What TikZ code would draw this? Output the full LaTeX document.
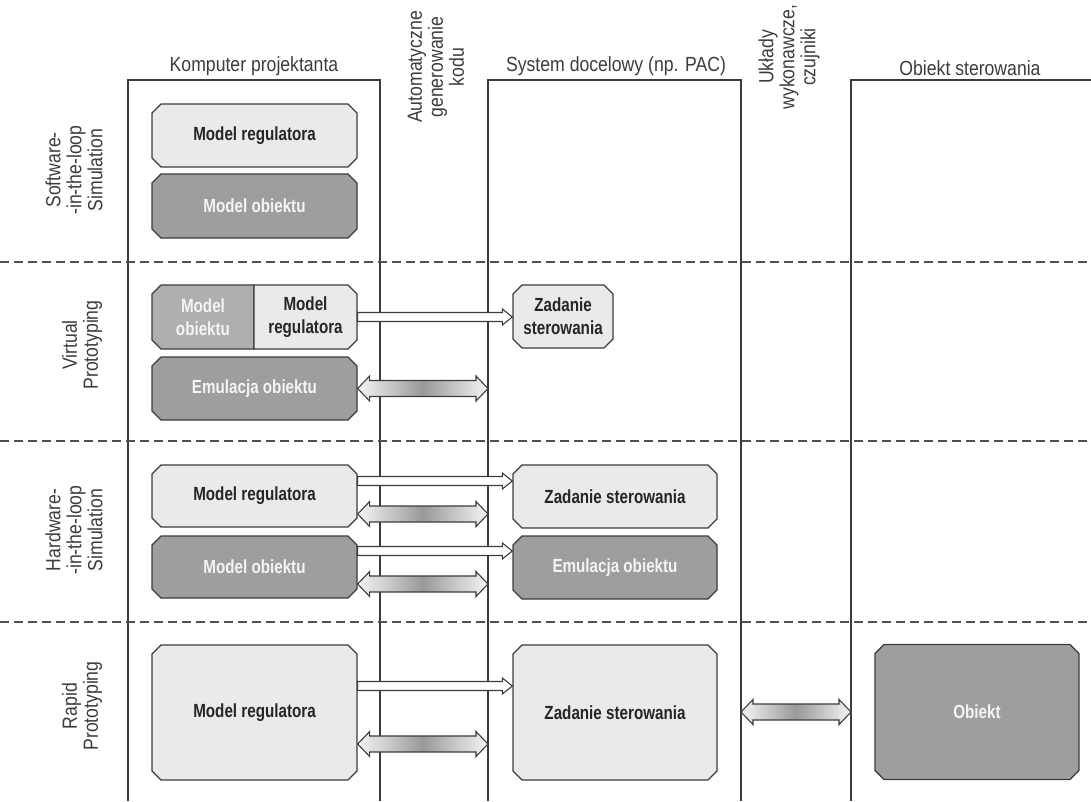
\documentclass[tikz,border=0pt]{standalone}
\usepackage{fontspec}
\setmainfont[FakeStretch=0.86]{Liberation Sans}
\newfontfamily\boxfont[FakeStretch=0.8]{Liberation Sans}
\usepackage{xcolor}
\usepackage{tikz}
\usetikzlibrary{calc}
\usetikzlibrary{shapes.misc}

\definecolor{boxlight}{HTML}{E9EAEA}
\definecolor{boxdark}{HTML}{9D9E9E}
\definecolor{boxmid}{HTML}{AEAFAF}
\definecolor{linegray}{HTML}{3C3C3C}
\definecolor{txtdark}{HTML}{262626}
\definecolor{txtlight}{HTML}{F4F4F4}

% white arrow between two points (y from the first, x from the second)
\newcommand\hollowarrow[2]{%
  \draw[hollowarr] let \p1=#1, \p2=#2 in
    (\x1,\y1+4.5pt) -- (\x2-10pt,\y1+4.5pt) -- (\x2-10pt,\y1+8pt) -- (\x2,\y1)
    -- (\x2-10pt,\y1-8pt) -- (\x2-10pt,\y1-4.5pt) -- (\x1,\y1-4.5pt) -- cycle;}
% shaded double arrow
\newcommand\shadedarrow[2]{%
  \path[shadedarr] let \p1=#1, \p2=#2 in
    (\x1,\y1) -- (\x1+12pt,\y1+12.5pt) -- (\x1+12pt,\y1+8pt) -- (\x2-12pt,\y1+8pt)
    -- (\x2-12pt,\y1+12.5pt) -- (\x2,\y1) -- (\x2-12pt,\y1-12.5pt) -- (\x2-12pt,\y1-8pt)
    -- (\x1+12pt,\y1-8pt) -- (\x1+12pt,\y1-12.5pt) -- cycle;}

\begin{document}
\begin{tikzpicture}[x=1pt,y=-1pt,
  label/.style={font=\fontsize{20.5}{21}\selectfont, text=txtdark!90, align=center, inner sep=0pt},
  sidelabel/.style={label, rotate=90},
  block/.style={chamfered rectangle, chamfered rectangle xsep=4.5pt, chamfered rectangle ysep=4.5pt,
    draw=linegray, line width=1.3pt, inner sep=0pt, align=center,
    font=\boxfont\bfseries\fontsize{19}{23}\selectfont},
  lblock/.style={block, fill=boxlight, text=txtdark},
  dblock/.style={block, fill=boxdark, text=txtlight},
  mblock/.style={block, fill=boxmid, text=txtlight},
  hollowarr/.style={draw=linegray, line width=1.1pt, fill=white},
  shadedarr/.style={draw=linegray, line width=1.1pt, left color=gray!8, right color=gray!8, middle color=gray!80},
  sep/.style={draw=linegray!90, line width=1.3pt, dash pattern=on 9pt off 5pt}]
\useasboundingbox (0,0) rectangle (1091,801);

% Columns
\draw[linegray, line width=1.3pt] (128,801) |- (380,80) -- (380,801);
\draw[linegray, line width=1.3pt] (488,801) |- (741,80) -- (741,801);
\draw[linegray, line width=1.3pt] (851,801) |- (1091,80);
\coordinate (c1r) at (380,0);
\coordinate (c2l) at (488,0);
\coordinate (c2r) at (741,0);
\coordinate (c3l) at (851,0);

\node[label] (t1) at (254,66) {Komputer projektanta};
\node[label] (t2) at (616,66) {System docelowy (np. PAC)};
\node[label] (t3) at (970,68) {Obiekt sterowania};
\node[sidelabel] (kod) at (436,67) {Automatyczne\\generowanie\\kodu};
\node[sidelabel] (uklady) at (789,57) {Układy\\wykonawcze,\\czujniki};

% Rows
\draw[sep] (0,262) -- (1091,262);
\draw[sep] (0,441) -- (1091,441);
\draw[sep] (0,622) -- (1091,622);
\node[sidelabel] (sil) at (74,170) {Software-\\-in-the-loop\\Simulation};
\node[sidelabel] (vp) at (82,345) {Virtual\\Prototyping};
\node[sidelabel] (hil) at (74,530) {Hardware-\\-in-the-loop\\Simulation};
\node[sidelabel] (rp) at (82,706) {Rapid\\Prototyping};

% Software-in-the-loop
\node[lblock, minimum width=205pt, minimum height=63pt] (mr1) at (254.5,135.5) {Model regulatora};
\node[dblock, minimum width=205pt, minimum height=64pt] (mo1) at (254.5,206) {Model obiektu};

% Virtual prototyping
\node[mblock, minimum width=102pt, minimum height=64pt, chamfered rectangle corners={north west,south west}] (mo2) at (203,317) {Model\\obiektu};
\node[lblock, minimum width=103pt, minimum height=64pt, chamfered rectangle corners={north east,south east}] (mr2) at (305.5,317) {Model\\regulatora};
\node[dblock, minimum width=205pt, minimum height=63pt] (eo2) at (254.5,388.5) {Emulacja obiektu};
\node[lblock, minimum width=100pt, minimum height=63pt] (zs2) at (563,316.5) {Zadanie\\sterowania};
\hollowarrow{(mr2.east)}{(zs2.west)}
\shadedarrow{(eo2.east)}{(c2l)}

% Hardware-in-the-loop
\node[lblock, minimum width=205pt, minimum height=62pt] (mr3) at (254.5,496) {Model regulatora};
\node[dblock, minimum width=205pt, minimum height=62pt] (mo3) at (254.5,567) {Model obiektu};
\node[lblock, minimum width=204pt, minimum height=63pt] (zs3) at (615,496.5) {Zadanie sterowania};
\node[dblock, minimum width=204pt, minimum height=63pt] (eo3) at (615,567.5) {Emulacja obiektu};
\hollowarrow{([yshift=15pt]mr3.east)}{(zs3.west)}
\shadedarrow{([yshift=-18pt]mr3.east)}{(c2l)}
\hollowarrow{([yshift=16pt]mo3.east)}{(eo3.west)}
\shadedarrow{([yshift=-17pt]mo3.east)}{(c2l)}

% Rapid prototyping
\node[lblock, minimum width=205pt, minimum height=135pt] (mr4) at (254.5,712.5) {Model regulatora};
\node[lblock, minimum width=204pt, minimum height=135pt] (zs4) at (615,712.5) {Zadanie sterowania};
\node[dblock, minimum width=204pt, minimum height=135pt] (ob4) at (977,712) {Obiekt};
\hollowarrow{([yshift=26.5pt]mr4.east)}{(zs4.west)}
\shadedarrow{([yshift=-31.5pt]mr4.east)}{(c2l)}
\shadedarrow{(c2r |- ob4.west)}{(c3l)}
\end{tikzpicture}
\end{document}
